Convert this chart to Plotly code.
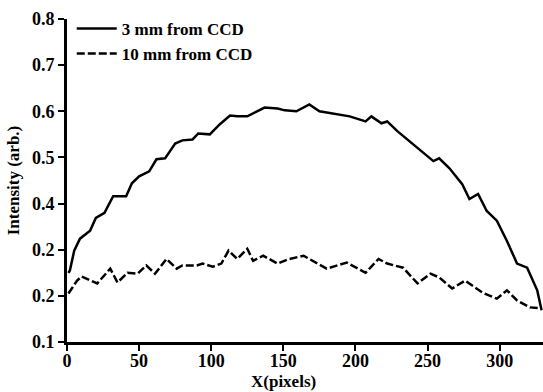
import plotly.graph_objects as go

x_3mm = [1, 2, 5, 9, 16, 20, 26, 32, 41, 45, 50, 57, 62, 68, 75, 80, 87, 91, 99, 106,
         113, 118, 125, 132, 137, 146, 151, 159, 168, 175, 196, 207, 211, 218, 222, 229,
         243, 254, 258, 265, 274, 279, 285, 291, 298, 305, 312, 319, 326, 329]
y_3mm = [0.25, 0.255, 0.298, 0.324, 0.341, 0.369, 0.38, 0.416, 0.416, 0.444, 0.459, 0.47,
         0.496, 0.498, 0.53, 0.537, 0.539, 0.552, 0.55, 0.572, 0.591, 0.589, 0.589, 0.6,
         0.608, 0.606, 0.602, 0.6, 0.615, 0.6, 0.589, 0.578, 0.589, 0.574, 0.578, 0.557,
         0.52, 0.492, 0.498, 0.477, 0.442, 0.41, 0.421, 0.384, 0.363, 0.319, 0.27, 0.261,
         0.212, 0.169]

x_10mm = [1, 7, 10, 16, 21, 30, 35, 42, 49, 55, 61, 69, 76, 80, 90, 94, 101, 107, 112,
          118, 125, 129, 136, 146, 153, 164, 180, 194, 207, 216, 222, 233, 243, 252, 258,
          267, 276, 288, 298, 305, 312, 321, 328]
y_10mm = [0.205, 0.233, 0.242, 0.233, 0.227, 0.259, 0.229, 0.25, 0.248, 0.266, 0.248,
          0.28, 0.259, 0.266, 0.266, 0.27, 0.263, 0.27, 0.298, 0.28, 0.302, 0.276, 0.287,
          0.27, 0.279, 0.287, 0.259, 0.272, 0.25, 0.28, 0.27, 0.261, 0.227, 0.248, 0.24,
          0.216, 0.233, 0.207, 0.194, 0.212, 0.19, 0.175, 0.173]

x_ticks = [0, 50, 100, 150, 200, 250, 300]
y_tickvals = [0.1, 0.2, 0.3, 0.4, 0.5, 0.6, 0.7, 0.8]
y_ticktext = ["0.1", "0.2", "0.2", "0.4", "0.5", "0.6", "0.7", "0.8"]

FONT = "Liberation Serif"

fig = go.Figure()
fig.add_trace(go.Scatter(x=x_3mm, y=y_3mm, mode="lines", name="<b>3 mm from CCD</b>",
                         line=dict(color="black", width=2.5)))
fig.add_trace(go.Scatter(x=x_10mm, y=y_10mm, mode="lines", name="<b>10 mm from CCD</b>",
                         line=dict(color="black", width=2.5, dash="8px,3px")))

fig.update_layout(
    width=543, height=392,
    margin=dict(l=67, r=0, t=19, b=50),
    paper_bgcolor="white", plot_bgcolor="white",
    font=dict(family=FONT, size=16, color="black"),
    showlegend=True,
    legend=dict(x=0.01, y=1.025, xanchor="left", yanchor="top",
                bgcolor="rgba(0,0,0,0)", font=dict(family=FONT, size=17),
                tracegroupgap=0, itemwidth=40),
    xaxis=dict(range=[0, 330], tickvals=x_ticks, ticktext=[f"<b>{v}</b>" for v in x_ticks],
               showgrid=False, zeroline=False,
               showline=True, linecolor="black", linewidth=3,
               ticks="outside", ticklen=6, tickwidth=2, tickcolor="black",
               ticklabelstandoff=-6,
               tickfont=dict(family=FONT, size=18)),
    yaxis=dict(range=[0.1, 0.8], tickvals=y_tickvals,
               ticktext=[f"<b>{t}</b>" for t in y_ticktext],
               showgrid=False, zeroline=False,
               showline=True, linecolor="black", linewidth=3,
               ticks="outside", ticklen=6, tickwidth=2, tickcolor="black",
               tickfont=dict(family=FONT, size=18),
               title=dict(text="<b>Intensity (arb.)</b>", standoff=8,
                          font=dict(family=FONT, size=17))),
)

fig.add_annotation(text="<b>X(pixels)</b>", x=150, xref="x", y=0, yref="paper",
                   yshift=-28, yanchor="top", showarrow=False,
                   font=dict(family=FONT, size=17))

fig.write_html("out.html")
